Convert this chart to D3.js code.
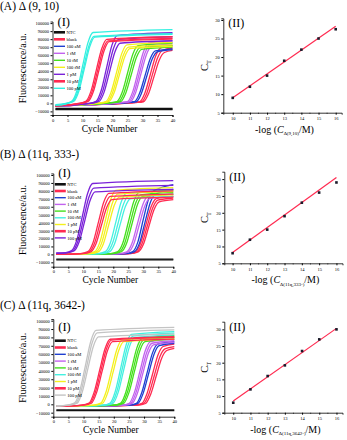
<!DOCTYPE html>
<html lang="en">
<head>
    <meta charset="UTF-8">
    <title>qPCR amplification curves</title>
    <style>
        body { margin: 0; padding: 0; background: #fff; overflow: hidden; }
        svg { display: block; font-family: "Liberation Serif", "Times New Roman", serif; }
        .tick text { font-size: 4.5px; font-family: "Liberation Serif", serif; }
        .domain, .tick line { stroke: #000; }
    </style>
</head>
<body>
<div id="chart"></div>
<script src="https://d3js.org/d3.v7.min.js"></script>
<script>
    // legend labels, same order for every panel
    const legendLabels = ["NTC", "blank", "100 aM", "1 fM", "10 fM", "100 fM", "1 pM", "10 pM", "100 pM"];
    const cycleTicks = [0, 5, 10, 15, 20, 25, 30, 35, 40];
    const fluorTicks = [-10000, 0, 10000, 20000, 30000, 40000, 50000, 60000, 70000, 80000, 90000, 100000];

    const colorsA = ["#111", "#ff2a50", "#1f3fd0", "#c262ee", "#44e01c", "#f4f01c", "#7a22d8", "#ff2a50", "#33f0e0"];
    const colorsB = ["#111", "#ff2a50", "#1f3fd0", "#c262ee", "#44e01c", "#44f0e0", "#f4f01c", "#ff2a50", "#7a22d8"];
    const colorsC = ["#111", "#ff2a50", "#1f3fd0", "#c262ee", "#44e01c", "#44f0e0", "#f4f01c", "#ff2a50", "#c4c4c4"];

    // NTC flat lines [cycle, fluorescence]
    const ntcA = [[[1, -6200], [40, -6200]], [[1, -7200], [40, -7200]], [[1, -7800], [40, -7800]]];
    const ntcB = [[[1, -6000], [40, -6000]], [[1, -7000], [40, -7000]]];
    const ntcC = [[[1, -6500], [40, -6500]], [[1, -7500], [40, -7500]]];

    // amplification curves: [legend index, [[cycle, fluorescence], ...]]
    const curvesA = [
        [1, [[1, -3000], [26.6, 1000], [29.1, 2200], [30.8, 13000], [32.6, 36000], [34.4, 59000], [36.1, 69100], [40, 72000]]],
        [1, [[1, -3000], [27.2, 1000], [29.7, 2100], [31.4, 12400], [33.2, 34500], [35, 56600], [36.7, 66200], [40, 69000]]],
        [1, [[1, -3000], [27.8, 1000], [30.3, 2000], [32, 11900], [33.8, 33000], [35.6, 54100], [37.3, 63400], [40, 66000]]],
        [2, [[1, -3000], [24.8, 1000], [27.3, 2000], [29, 12200], [30.8, 34000], [32.6, 55800], [34.3, 65300], [40, 68000]]],
        [2, [[1, -3000], [25.4, 1000], [27.9, 2000], [29.6, 12100], [31.4, 33500], [33.2, 54900], [34.9, 64300], [40, 67000]]],
        [3, [[1, -3000], [22.5, 1000], [25, 2300], [26.7, 14000], [28.5, 39000], [30.3, 64000], [32, 74900], [40, 78000]]],
        [3, [[1, -3000], [23, 1000], [25.5, 2300], [27.2, 13700], [29, 38000], [30.8, 62300], [32.5, 73000], [40, 76000]]],
        [3, [[1, -3000], [23.5, 1000], [26, 2200], [27.7, 13300], [29.5, 37000], [31.3, 60700], [33, 71000], [40, 74000]]],
        [4, [[1, -3000], [19, 800], [21.5, 2300], [23.2, 13500], [25, 37500], [26.8, 61500], [28.5, 72000], [40, 75000]]],
        [4, [[1, -3000], [19.6, 800], [22.1, 2200], [23.8, 13000], [25.6, 36000], [27.4, 59000], [29.1, 69100], [40, 72000]]],
        [4, [[1, -3000], [20.2, 800], [22.7, 2100], [24.4, 12600], [26.2, 35000], [28, 57400], [29.7, 67200], [40, 70000]]],
        [5, [[1, -3000], [15.3, 500], [17.8, 2300], [19.5, 13700], [21.3, 38000], [23.1, 62300], [24.8, 73000], [40, 76000]]],
        [5, [[1, -3000], [15.8, 500], [18.3, 2200], [20, 13100], [21.8, 36500], [23.6, 59900], [25.3, 70100], [40, 73000]]],
        [5, [[1, -3000], [16.3, 500], [18.8, 2100], [20.5, 12800], [22.3, 35500], [24.1, 58200], [25.8, 68200], [40, 71000]]],
        [6, [[1, -3000], [12, 0], [14.5, 2600], [16.2, 15800], [18, 44000], [19.8, 72200], [21.5, 84500], [40, 88000]]],
        [6, [[1, -3000], [12.5, 0], [15, 2500], [16.7, 14900], [18.5, 41500], [20.3, 68100], [22, 79700], [40, 83000]]],
        [6, [[1, -3000], [13, 0], [15.5, 2300], [17.2, 14000], [19, 39000], [20.8, 64000], [22.5, 74900], [40, 78000]]],
        [7, [[1, -3000], [8.6, 0], [11.1, 2500], [12.8, 14900], [14.6, 41500], [16.4, 68100], [18.1, 79700], [40, 83000]]],
        [7, [[1, -3000], [9, 0], [11.5, 2400], [13.2, 14600], [15, 40500], [16.8, 66400], [18.5, 77800], [40, 81000]]],
        [7, [[1, -3000], [9.4, 0], [11.9, 2400], [13.6, 14400], [15.4, 40000], [17.2, 65600], [18.9, 76800], [40, 80000]]],
        [8, [[1, -1500], [4, -500], [6.5, 2800], [8.2, 16600], [10, 46000], [11.8, 75400], [13.5, 88300], [40, 92000]]],
        [8, [[1, -2000], [4.3, -500], [6.8, 2600], [8.5, 15700], [10.3, 43500], [12.1, 71300], [13.8, 83500], [40, 87000]]],
        [8, [[1, -2500], [4.6, -500], [7.1, 2600], [8.8, 15500], [10.6, 43000], [12.4, 70500], [14.1, 82600], [40, 86000]]]
    ];

    const curvesB = [
        [1, [[1, 0], [24.8, 1000], [27.3, 3200], [29, 13100], [30.8, 36500], [32.6, 59900], [34.3, 70100], [40, 73000]]],
        [1, [[1, 0], [25.3, 1000], [27.8, 3100], [29.5, 12800], [31.3, 35500], [33.1, 58200], [34.8, 68200], [40, 71000]]],
        [1, [[1, 0], [25.8, 1000], [28.3, 3100], [30, 12400], [31.8, 34500], [33.6, 56600], [35.3, 66200], [40, 69000]]],
        [2, [[1, 0], [24, 1000], [26.5, 3600], [28.2, 15800], [30, 44000], [31.8, 70000], [33.5, 80000], [40, 88000]]],
        [2, [[1, 0], [24.6, 1000], [27.1, 3500], [28.8, 14800], [30.6, 41000], [32.4, 66000], [34.1, 76000], [40, 82000]]],
        [3, [[1, 0], [22, 1000], [24.5, 3300], [26.2, 13700], [28, 38000], [29.8, 62300], [31.5, 73000], [40, 76000]]],
        [3, [[1, 0], [22.6, 1000], [25.1, 3200], [26.8, 13100], [28.6, 36500], [30.4, 59900], [32.1, 70100], [40, 73000]]],
        [4, [[1, 0], [19, 1000], [21.5, 3400], [23.2, 14600], [25, 40500], [26.8, 66400], [28.5, 77800], [40, 81000]]],
        [4, [[1, 0], [19.6, 1000], [22.1, 3300], [23.8, 14000], [25.6, 39000], [27.4, 64000], [29.1, 74900], [40, 78000]]],
        [4, [[1, 0], [20.2, 1000], [22.7, 3300], [24.4, 13700], [26.2, 38000], [28, 62300], [29.7, 73000], [40, 76000]]],
        [5, [[1, 0], [14.8, 1000], [17.3, 3400], [19, 14400], [20.8, 40000], [22.6, 65600], [24.3, 76800], [40, 80000]]],
        [5, [[1, 0], [15.5, 1000], [18, 3300], [19.7, 13700], [21.5, 38000], [23.3, 62300], [25, 73000], [40, 76000]]],
        [5, [[1, 0], [16.2, 1000], [18.7, 3200], [20.4, 13100], [22.2, 36500], [24, 59900], [25.7, 70100], [40, 73000]]],
        [6, [[1, 0], [11.3, 1000], [13.8, 3500], [15.5, 15100], [17.3, 42000], [19.1, 68900], [20.8, 80600], [40, 84000]]],
        [6, [[1, 0], [11.9, 1000], [14.4, 3400], [16.1, 14200], [17.9, 39500], [19.7, 64800], [21.4, 75800], [40, 79000]]],
        [6, [[1, 0], [12.5, 1000], [15, 3200], [16.7, 13500], [18.5, 37500], [20.3, 61500], [22, 72000], [40, 75000]]],
        [7, [[1, 0], [9, 1000], [11.5, 3400], [13.2, 14400], [15, 40000], [16.8, 65600], [18.5, 76800], [40, 80000]]],
        [7, [[1, 0], [9.5, 1000], [12, 3300], [13.7, 13700], [15.5, 38000], [17.3, 62300], [19, 73000], [40, 76000]]],
        [7, [[1, 0], [10, 1000], [12.5, 3200], [14.2, 13000], [16, 36000], [17.8, 59000], [19.5, 69100], [40, 72000]]],
        [8, [[1, 1500], [3.6, 2000], [6.1, 4800], [7.8, 17600], [9.6, 46500], [11.4, 76300], [13.1, 89300], [40, 93000]]],
        [8, [[1, 1500], [4, 2000], [6.5, 4500], [8.2, 16500], [10, 43500], [11.8, 71300], [13.5, 83500], [40, 87000]]],
        [8, [[1, 1500], [4.4, 2000], [6.9, 4300], [8.6, 15600], [10.4, 41000], [12.2, 67200], [13.9, 78700], [40, 82000]]]
    ];

    const curvesC = [
        [1, [[1, -2500], [26.8, -1000], [29.3, 1200], [31, 13000], [32.8, 36000], [34.6, 59000], [36.3, 69100], [40, 72000]]],
        [1, [[1, -2500], [27.4, -1000], [29.9, 1100], [31.6, 12400], [33.4, 34500], [35.2, 56600], [36.9, 66200], [40, 69000]]],
        [1, [[1, -2500], [28, -1000], [30.5, 1000], [32.2, 12100], [34, 33500], [35.8, 54900], [37.5, 64300], [40, 67000]]],
        [2, [[1, -2500], [25, -1000], [27.5, 1200], [29.2, 13500], [31, 37500], [32.8, 61500], [34.5, 72000], [40, 75000]]],
        [2, [[1, -2500], [25.5, -1000], [28, 1200], [29.7, 13100], [31.5, 36500], [33.3, 59900], [35, 70100], [40, 73000]]],
        [3, [[1, -2500], [22.6, -1000], [25.1, 1300], [26.8, 14000], [28.6, 39000], [30.4, 64000], [32.1, 74900], [40, 78000]]],
        [3, [[1, -2500], [23.1, -1000], [25.6, 1300], [27.3, 13700], [29.1, 38000], [30.9, 62300], [32.6, 73000], [40, 76000]]],
        [3, [[1, -2500], [23.6, -1000], [26.1, 1200], [27.8, 13300], [29.6, 37000], [31.4, 60700], [33.1, 71000], [40, 74000]]],
        [4, [[1, -2500], [19.8, -1000], [22.3, 1500], [24, 14800], [25.8, 41000], [27.6, 67200], [29.3, 78700], [40, 82000]]],
        [4, [[1, -2500], [20.3, -1000], [22.8, 1400], [24.5, 14400], [26.3, 40000], [28.1, 65600], [29.8, 76800], [40, 80000]]],
        [4, [[1, -2500], [20.8, -1000], [23.3, 1300], [25, 14000], [26.8, 39000], [28.6, 64000], [30.3, 74900], [40, 78000]]],
        [5, [[1, -2500], [16.3, -1000], [18.8, 1600], [20.5, 15700], [22.3, 43500], [24.1, 71300], [25.8, 83500], [40, 87000]]],
        [5, [[1, -2500], [16.8, -1000], [19.3, 1550], [21, 15300], [22.8, 42500], [24.6, 69700], [26.3, 81600], [40, 85000]]],
        [5, [[1, -2500], [17.3, -1000], [19.8, 1500], [21.5, 14900], [23.3, 41500], [25.1, 68100], [26.8, 79700], [40, 83000]]],
        [6, [[1, -2500], [13.2, -1000], [15.7, 1400], [17.4, 14400], [19.2, 40000], [21, 65600], [22.7, 76800], [40, 80000]]],
        [6, [[1, -2500], [13.8, -1000], [16.3, 1300], [18, 14000], [19.8, 39000], [21.6, 64000], [23.3, 74900], [40, 78000]]],
        [7, [[1, -2500], [9.3, -1000], [11.8, 1400], [13.5, 14600], [15.3, 40500], [17.1, 66400], [18.8, 77800], [40, 81000]]],
        [7, [[1, -2500], [9.7, -1000], [12.2, 1400], [13.9, 14400], [15.7, 40000], [17.5, 65600], [19.2, 76800], [40, 80000]]],
        [7, [[1, -2500], [10.1, -1000], [12.6, 1300], [14.3, 14000], [16.1, 39000], [17.9, 64000], [19.6, 74900], [40, 78000]]],
        [8, [[1, -2000], [4.6, -1000], [7.1, 1800], [8.8, 16600], [10.6, 46000], [12.4, 75400], [14.1, 88300], [40, 92000]]],
        [8, [[1, -2000], [5, -1000], [7.5, 1700], [9.2, 16000], [11, 44500], [12.8, 73000], [14.5, 85400], [40, 89000]]],
        [8, [[1, -2000], [5.4, -1000], [7.9, 1500], [9.6, 15100], [11.4, 42000], [13.2, 68900], [14.9, 80600], [40, 84000]]]
    ];

    // standard curves: -log(C/M) vs CT
    const logConc = [10, 11, 12, 13, 14, 15, 16];
    const ctA = [9, 12, 15, 19, 22, 25, 27.5];
    const ctB = [8, 12, 15, 19, 23, 26, 29];
    const ctC = [8, 12, 16, 19.2, 23.5, 27, 30];
    const fitA = [[10, 9.0], [16, 28.3]];
    const fitB = [[10, 8.2], [16, 30.5]];
    const fitC = [[10, 8.5], [16, 30.3]];
    const ctTicks = [5, 10, 15, 20, 25, 30];

    const W = 347, H = 440;
    const svg = d3.select('#chart').append('svg').attr('width', W).attr('height', H);

    // panel layout (pixel boxes)
    const panels = [
        { title: "(A) \u0394 (9, 10)", titleY: 10, sub: "\u0394(9,10)", curves: curvesA, colors: colorsA, ntc: ntcA, ct: ctA, fit: fitA,
          lx: [52.5, 172.5], ly: [115, 21.5], ld: [-14500, 102000], legY: 32.3, legStep: 7, romanY: 25.5,
          rx: [223.3, 341.7], rd: [9.45, 16.35], ry: [112.7, 18.3], rdy: [5, 30.45] },
        { title: "(B) \u0394 (11q, 333-)", titleY: 158, sub: "\u0394(11q,333-)", curves: curvesB, colors: colorsB, ntc: ntcB, ct: ctB, fit: fitB,
          lx: [53.3, 173.3], ly: [266.7, 173.4], ld: [-15500, 102000], legY: 184.3, legStep: 6.7, romanY: 177,
          rx: [224.3, 342.5], rd: [9.52, 16.35], ry: [263.3, 171.7], rdy: [5, 32.2] },
        { title: "(C) \u0394 (11q, 3642-)", titleY: 309, sub: "\u0394(11q,3642-)", curves: curvesC, colors: colorsC, ntc: ntcC, ct: ctC, fit: fitC,
          lx: [53.3, 174.3], ly: [416.7, 319], ld: [-14800, 102000], legY: 340.7, legStep: 6.8, romanY: 331,
          rx: [224.3, 342.5], rd: [9.48, 16.35], ry: [412.7, 321.7], rdy: [5, 32.3] }
    ];

    panels.forEach(p => {
        drawAmplification(p);
        drawStandard(p);
    });

    function drawAmplification(p) {
        const x = d3.scaleLinear().domain([0, 40]).range(p.lx);
        const y = d3.scaleLinear().domain(p.ld).range(p.ly);
        const g = svg.append('g');

        g.append('text')
            .attr('x', 0).attr('y', p.titleY)
            .attr('font-size', 11.5)
            .text(p.title);

        const line = d3.line().x(d => x(d[0])).y(d => y(d[1])).curve(d3.curveMonotoneX);

        // NTC baselines
        g.selectAll('.ntc').data(p.ntc).enter().append('path')
            .attr('d', line).attr('fill', 'none')
            .attr('stroke', '#111').attr('stroke-width', 1.2);

        g.selectAll('.amp').data(p.curves).enter().append('path')
            .attr('d', d => line(d[1]))
            .attr('fill', 'none')
            .attr('stroke', d => p.colors[d[0]])
            .attr('stroke-width', 1.3);

        g.append('g')
            .attr('transform', `translate(0,${p.ly[0]})`)
            .call(d3.axisBottom(x).tickValues(cycleTicks).tickSize(2).tickPadding(1.5));
        g.append('g')
            .attr('transform', `translate(${p.lx[0]},0)`)
            .call(d3.axisLeft(y).tickValues(fluorTicks).tickSize(2).tickPadding(1.5).tickFormat(d3.format('d')));
        g.selectAll('.domain').attr('stroke-width', 0.8);

        // legend
        const leg = g.append('g');
        legendLabels.forEach((lab, i) => {
            const yy = p.legY + i * p.legStep;
            leg.append('line')
                .attr('x1', p.lx[0] + 1.5).attr('x2', p.lx[0] + 12.5)
                .attr('y1', yy).attr('y2', yy)
                .attr('stroke', p.colors[i])
                .attr('stroke-width', (i === 0 || i === 1 || i === 7) ? 2.6 : 1.4);
            leg.append('text')
                .attr('x', p.lx[0] + 14).attr('y', yy + 1.6)
                .attr('font-size', 4.6)
                .text(lab);
        });

        g.append('text')
            .attr('x', p.lx[0] + 5).attr('y', p.romanY)
            .attr('font-size', 12.5)
            .text('(I)');

        g.append('text')
            .attr('x', (p.lx[0] + p.lx[1]) / 2 - 3).attr('y', p.ly[0] + 16.5)
            .attr('text-anchor', 'middle')
            .attr('font-size', 9.5)
            .text('Cycle Number');

        const midY = (p.ly[0] + p.ly[1]) / 2;
        g.append('text')
            .attr('transform', `translate(26,${midY}) rotate(-90)`)
            .attr('text-anchor', 'middle')
            .attr('font-size', 10)
            .text('Fluorescence/a.u.');
    }

    function drawStandard(p) {
        const x = d3.scaleLinear().domain(p.rd).range(p.rx);
        const y = d3.scaleLinear().domain(p.rdy).range(p.ry);
        const g = svg.append('g');

        g.append('g')
            .attr('transform', `translate(0,${p.ry[0]})`)
            .call(d3.axisBottom(x).tickValues(logConc).tickSize(2).tickPadding(2.5).tickFormat(d3.format('d')));
        g.append('g')
            .attr('transform', `translate(${p.rx[0]},0)`)
            .call(d3.axisLeft(y).tickValues(ctTicks).tickSize(2).tickPadding(1.5).tickFormat(d3.format('d')));
        g.selectAll('.domain').attr('stroke-width', 0.8);

        // minor ticks on x
        g.selectAll('.minor').data(logConc.slice(0, -1)).enter().append('line')
            .attr('x1', d => x(d + 0.5)).attr('x2', d => x(d + 0.5))
            .attr('y1', p.ry[0]).attr('y2', p.ry[0] + 1.2)
            .attr('stroke', '#000').attr('stroke-width', 0.6);

        g.append('path')
            .attr('d', d3.line().x(d => x(d[0])).y(d => y(d[1]))(p.fit))
            .attr('fill', 'none')
            .attr('stroke', '#ff2a50')
            .attr('stroke-width', 1.2);

        g.selectAll('.pt').data(logConc).enter().append('rect')
            .attr('x', (d) => x(d) - 1.3)
            .attr('y', (d, i) => y(p.ct[i]) - 1.3)
            .attr('width', 2.6).attr('height', 2.6)
            .attr('fill', '#1a1a2a');

        g.append('text')
            .attr('x', p.rx[0] + 5).attr('y', p.ry[1] + 9)
            .attr('font-size', 12)
            .text('(II)');

        // CT label
        const midY = (p.ry[0] + p.ry[1]) / 2;
        const ct = g.append('text')
            .attr('transform', `translate(208,${midY}) rotate(-90)`)
            .attr('text-anchor', 'middle')
            .attr('font-size', 10.5);
        ct.append('tspan').text('C');
        ct.append('tspan').attr('font-size', 6.5).attr('dy', 2.5).text('T');

        // x label -log(C_sub/M)
        const xl = g.append('text')
            .attr('x', (p.rx[0] + p.rx[1]) / 2 + 2).attr('y', p.ry[0] + 20)
            .attr('text-anchor', 'middle')
            .attr('font-size', 10);
        xl.append('tspan').text('-log (');
        xl.append('tspan').attr('font-style', 'italic').text('C');
        xl.append('tspan').attr('font-size', 5).attr('dy', 2.5).text(p.sub);
        xl.append('tspan').attr('dy', -2.5).text('/M)');
    }
</script>
</body>
</html>
